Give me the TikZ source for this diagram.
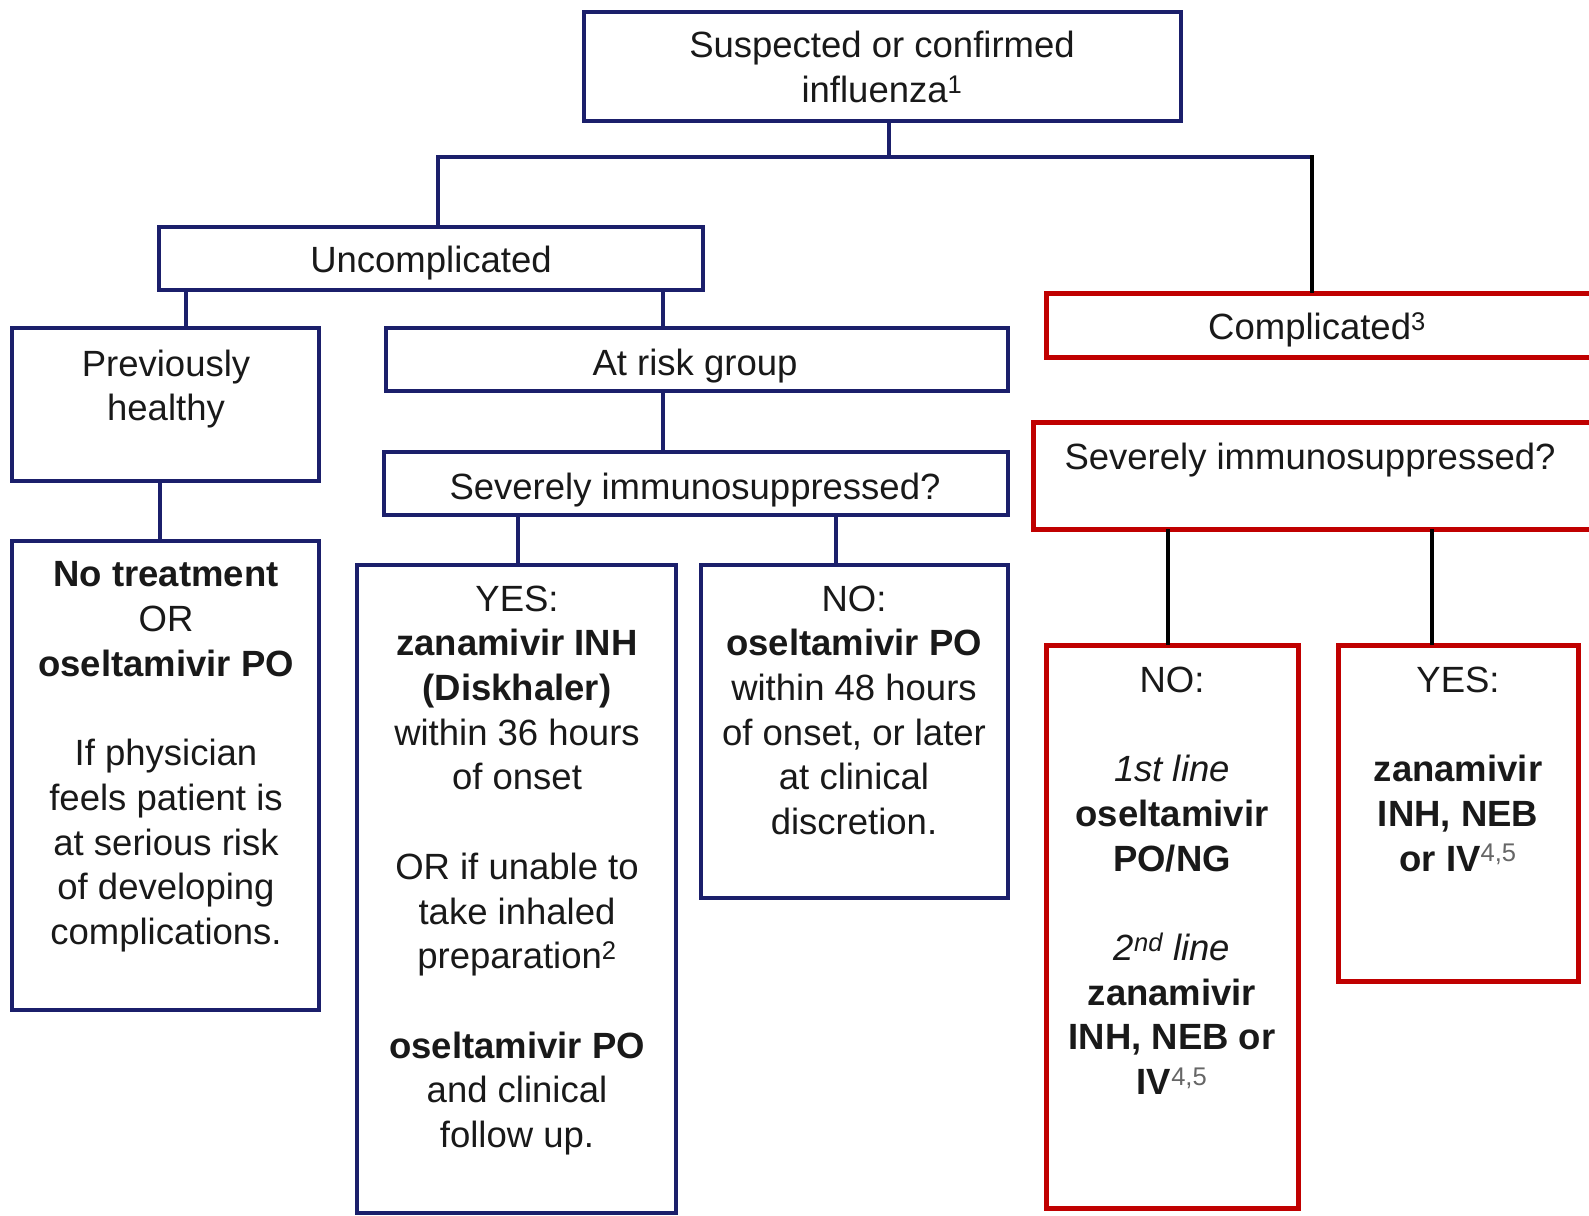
\documentclass[tikz,border=0pt]{standalone}
\usepackage{fontspec}
\setmainfont{Liberation Sans}
\usetikzlibrary{calc}
\definecolor{navy}{HTML}{1B1F6B}
\definecolor{dred}{HTML}{C00000}
\newcommand\tstrut{\rule{0pt}{29pt}}
\tikzset{
  bbox/.style={draw=navy, line width=4.5pt, rectangle, inner sep=0pt, outer sep=0pt, anchor=north west},
  rbox/.style={draw=dred, line width=5pt, rectangle, inner sep=0pt, outer sep=0pt, anchor=north west},
  txt/.style={anchor=north, align=center, inner sep=0pt, text=black!90, font=\fontsize{36.5}{44.7}\selectfont},
  nline/.style={draw=navy, line width=3.5pt},
  kline/.style={draw=black, line width=3.5pt},
}
\begin{document}
\begin{tikzpicture}[x=1pt,y=-1pt]
\useasboundingbox (0,0) rectangle (1589,1215);
\fill[white] (0,0) rectangle (1589,1215);

% boxes
\node[bbox, minimum width=597, minimum height=109] (top) at (584,12) {};
\node[bbox, minimum width=544, minimum height=63] (uncomp) at (159,227) {};
\node[rbox, minimum width=554, minimum height=64] (comp) at (1046,293) {};
\node[bbox, minimum width=307, minimum height=153] (prev) at (12,328) {};
\node[bbox, minimum width=622, minimum height=63] (atrisk) at (386,328) {};
\node[bbox, minimum width=624, minimum height=63] (sevl) at (384,452) {};
\node[bbox, minimum width=307, minimum height=469] (notreat) at (12,541) {};
\node[bbox, minimum width=319, minimum height=648] (yesl) at (357,565) {};
\node[bbox, minimum width=307, minimum height=333] (nol) at (701,565) {};
\node[rbox, minimum width=567, minimum height=107] (sevr) at (1033,422) {};
\node[rbox, minimum width=252, minimum height=563] (nor) at (1046,645) {};
\node[rbox, minimum width=240, minimum height=336] (yesr) at (1338,645) {};

% texts
\node[txt] (ttop) at (882,28.6) {\tstrut Suspected or confirmed\\influenza\textsuperscript{1}};
\node[txt] (tuncomp) at (431,243.4) {\tstrut Uncomplicated};
\node[txt] (tcomp) at (1317,310.3) {\tstrut Complicated\textsuperscript{3}};
\node[txt] (tprev) at (166,346.8) {\tstrut Previously\\healthy};
\node[txt] (tatrisk) at (695,345.8) {\tstrut At risk group};
\node[txt] (tsevl) at (695,470.4) {\tstrut Severely immunosuppressed?};
\node[txt] (tsevr) at (1310,440) {\tstrut Severely immunosuppressed?};
\node[txt] (tnotreat) at (166,557.6) {\tstrut\textbf{No treatment}\\OR\\\textbf{oseltamivir PO}\\[44.7pt]If physician\\feels patient is\\at serious risk\\of developing\\complications.};
\node[txt] (tyesl) at (517,581.9) {\tstrut YES:\\\textbf{zanamivir INH}\\\textbf{(Diskhaler)}\\within 36 hours\\of onset\\[44.7pt]OR if unable to\\take inhaled\\preparation\textsuperscript{2}\\[44.7pt]\textbf{oseltamivir PO}\\and clinical\\follow up.};
\node[txt] (tnol) at (854,581.9) {\tstrut NO:\\\textbf{oseltamivir PO}\\within 48 hours\\of onset, or later\\at clinical\\discretion.};
\node[txt] (tnor) at (1172,663) {\tstrut NO:\\[44.7pt]\textit{1st line}\\\textbf{oseltamivir}\\\textbf{PO/NG}\\[44.7pt]\textit{2\textsuperscript{nd} line}\\\textbf{zanamivir}\\\textbf{INH, NEB or}\\\textbf{IV}\textsuperscript{\mdseries\color{black!60}4,5}};
\node[txt] (tyesr) at (1458,663) {\tstrut YES:\\[44.7pt]\textbf{zanamivir}\\\textbf{INH, NEB}\\\textbf{or IV}\textsuperscript{\mdseries\color{black!60}4,5}};

% connector reference coordinates
\coordinate (xT) at (889,0);
\coordinate (hL) at (438,157);
\coordinate (hR) at (1312,157);
\coordinate (hRt) at (1312,155.25);
\coordinate (xP) at (186,0);
\coordinate (xA) at (663,0);
\coordinate (xN) at (160,0);
\coordinate (xY) at (518,0);
\coordinate (xO) at (836,0);
\coordinate (xRN) at (1168,0);
\coordinate (xRY) at (1432,0);

% connectors
\draw[nline] (xT |- top.south) -- (xT |- hL);
\draw[nline] (hL |- uncomp.north) -- (hL) -- (hR);
\draw[kline] (hRt) -- (hR |- comp.north);
\draw[nline] (xP |- uncomp.south) -- (xP |- prev.north);
\draw[nline] (xA |- uncomp.south) -- (xA |- atrisk.north);
\draw[nline] (xA |- atrisk.south) -- (xA |- sevl.north);
\draw[nline] (xN |- prev.south) -- (xN |- notreat.north);
\draw[nline] (xY |- sevl.south) -- (xY |- yesl.north);
\draw[nline] (xO |- sevl.south) -- (xO |- nol.north);
\draw[kline] (xRN |- sevr.south) -- (xRN |- nor.north);
\draw[kline] (xRY |- sevr.south) -- (xRY |- yesr.north);
\end{tikzpicture}
\end{document}
